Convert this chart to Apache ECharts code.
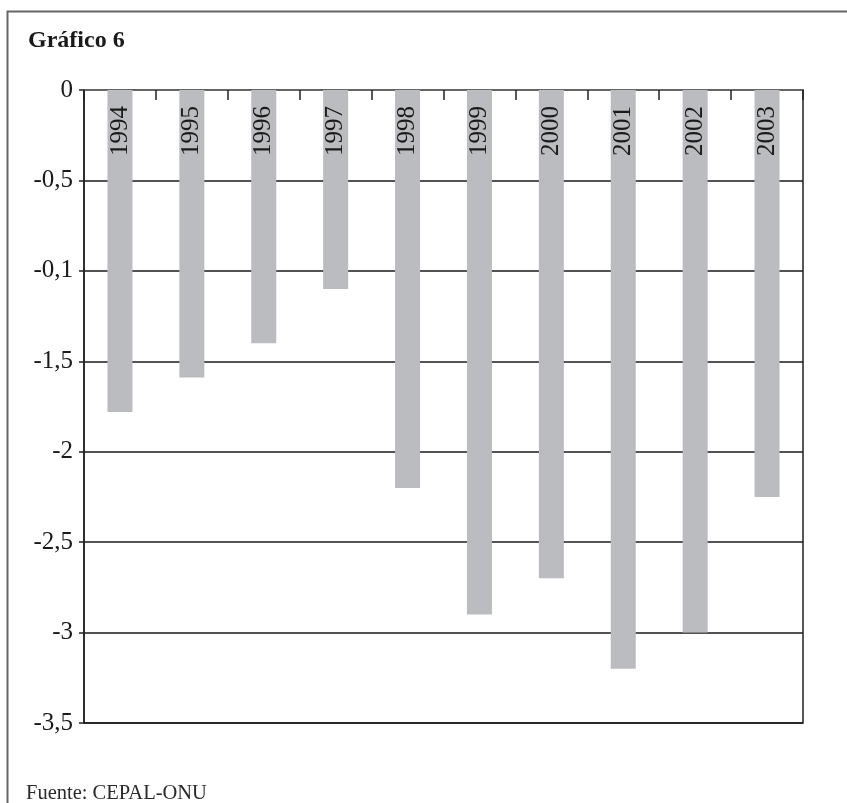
<!DOCTYPE html>
<html>
<head>
<meta charset="utf-8">
<script src="https://cdn.jsdelivr.net/npm/echarts@6/dist/echarts.min.js"></script>
<style>
  html, body { margin: 0; padding: 0; background: #fff; }
  #chart { width: 847px; height: 803px; }
</style>
</head>
<body>
<div id="chart"></div>
<script>
// Years shown on the bars
const years = ['1994', '1995', '1996', '1997', '1998', '1999', '2000', '2001', '2002', '2003'];
// Bar values
const values = [-1.78, -1.59, -1.4, -1.1, -2.2, -2.9, -2.7, -3.2, -3.0, -2.25];
// Y-axis tick values and the labels printed for them
const tickValues = [0, -0.5, -1, -1.5, -2, -2.5, -3, -3.5];
const tickLabels = ['0', '-0,5', '-0,1', '-1,5', '-2', '-2,5', '-3', '-3,5'];

const serif = '"Liberation Serif", "DejaVu Serif", serif';
const chart = echarts.init(document.getElementById('chart'));

chart.setOption({
  animation: false,
  backgroundColor: '#ffffff',
  textStyle: { fontFamily: serif },
  title: [
    {
      text: 'Gráfico 6',
      left: 23, top: 24,
      textStyle: { fontFamily: serif, fontWeight: 'bold', fontSize: 24, color: '#1a1a1a' }
    },
    {
      text: 'Fuente: CEPAL-ONU',
      left: 21, top: 778,
      textStyle: { fontFamily: serif, fontWeight: 'normal', fontSize: 20.5, color: '#2a2a2a' }
    }
  ],
  graphic: [
    {
      type: 'rect',
      shape: { x: 7.5, y: 11.5, width: 900, height: 900 },
      style: { fill: 'none', stroke: '#666', lineWidth: 2 },
      silent: true, z: -1
    }
  ],
  grid: {
    left: 84, top: 90, right: 44, bottom: 80,
    show: true, borderColor: '#222', borderWidth: 1.5,
    backgroundColor: 'transparent'
  },
  xAxis: {
    type: 'category',
    data: years,
    position: 'top',
    boundaryGap: true,
    axisLine: { show: true, onZero: true, lineStyle: { color: '#666', width: 2 } },
    axisTick: { show: true, inside: true, length: 10, alignWithLabel: false, lineStyle: { color: '#222', width: 1.5 } },
    axisLabel: { show: false },
    splitLine: { show: false }
  },
  yAxis: {
    type: 'value',
    min: -3.5, max: 0, interval: 0.5,
    axisLine: { show: true, lineStyle: { color: '#222', width: 1.5 } },
    axisTick: { show: true, inside: false, length: 5, lineStyle: { color: '#222', width: 1.5 } },
    axisLabel: {
      margin: 11,
      fontFamily: serif, fontSize: 25, color: '#1a1a1a',
      formatter: function (v) {
        const i = tickValues.findIndex(t => Math.abs(t - v) < 1e-9);
        return i >= 0 ? tickLabels[i] : '';
      }
    },
    splitLine: { show: true, lineStyle: { color: '#1a1a1a', width: 1.5 } }
  },
  series: [
    {
      type: 'bar',
      data: values,
      barWidth: 25,
      itemStyle: { color: '#bbbcc0' },
      label: {
        show: true,
        formatter: function (p) { return years[p.dataIndex]; },
        position: 'insideTop',
        distance: 16,
        rotate: 90,
        align: 'right',
        verticalAlign: 'middle',
        fontFamily: serif,
        fontSize: 25,
        color: '#1a1a1a'
      }
    }
  ]
});
</script>
</body>
</html>
